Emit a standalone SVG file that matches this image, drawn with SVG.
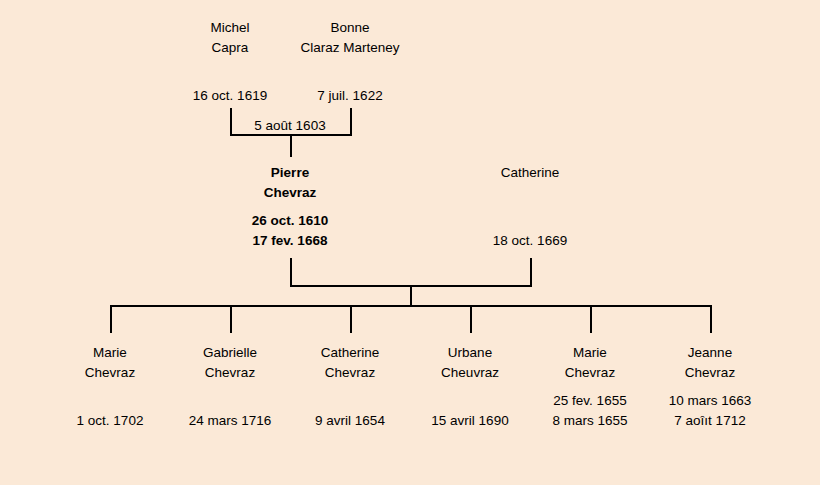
<svg xmlns="http://www.w3.org/2000/svg" width="820" height="485" viewBox="0 0 820 485">
<style>
text{font-family:"Liberation Sans","DejaVu Sans",sans-serif;font-size:13.5px;fill:#000;text-anchor:middle}
.b{font-weight:bold}
#connectors path{fill:none;stroke:#000;stroke-width:2}
</style>
<rect width="820" height="485" fill="#fbe9d7"/>
<g id="connectors">
<path d="M231 108V135H351V108M291 135V157"/>
<path d="M291 258V286H531V258M411 286V306"/>
<path d="M111 333V306H711V333M231 306V333M351 306V333M471 306V333M591 306V333"/>
</g>
<g id="michel"><text x="230" y="32">Michel</text><text x="230" y="52">Capra</text><text x="230" y="100">16 oct. 1619</text></g>
<g id="bonne"><text x="350" y="32">Bonne</text><text x="350" y="52">Claraz Marteney</text><text x="350" y="100">7 juil. 1622</text></g>
<g id="marriage1"><text x="290" y="130">5 août 1603</text></g>
<g id="pierre"><text class="b" x="290" y="177">Pierre</text><text class="b" x="290" y="197">Chevraz</text><text class="b" x="290" y="225">26 oct. 1610</text><text class="b" x="290" y="245">17 fev. 1668</text></g>
<g id="catherine"><text x="530" y="177">Catherine</text><text x="530" y="245">18 oct. 1669</text></g>
<g id="c1"><text x="110" y="357">Marie</text><text x="110" y="377">Chevraz</text><text x="110" y="425">1 oct. 1702</text></g>
<g id="c2"><text x="230" y="357">Gabrielle</text><text x="230" y="377">Chevraz</text><text x="230" y="425">24 mars 1716</text></g>
<g id="c3"><text x="350" y="357">Catherine</text><text x="350" y="377">Chevraz</text><text x="350" y="425">9 avril 1654</text></g>
<g id="c4"><text x="470" y="357">Urbane</text><text x="470" y="377">Cheuvraz</text><text x="470" y="425">15 avril 1690</text></g>
<g id="c5"><text x="590" y="357">Marie</text><text x="590" y="377">Chevraz</text><text x="590" y="405">25 fev. 1655</text><text x="590" y="425">8 mars 1655</text></g>
<g id="c6"><text x="710" y="357">Jeanne</text><text x="710" y="377">Chevraz</text><text x="710" y="405">10 mars 1663</text><text x="710" y="425">7 aoîıt 1712</text></g>
</svg>
